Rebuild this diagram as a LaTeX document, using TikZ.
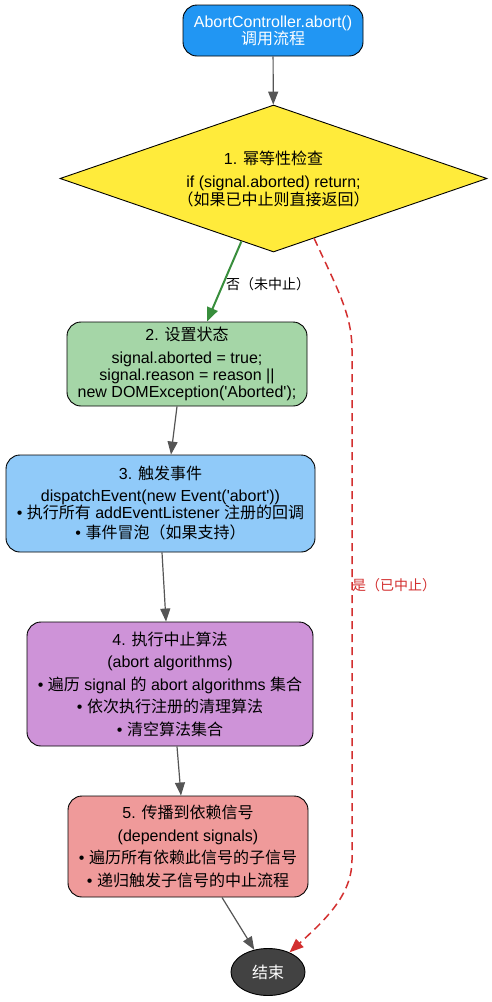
\documentclass[tikz,border=0pt]{standalone}
\usepackage{fontspec}
\setmainfont{Liberation Sans}
\newfontfamily\cjk{Noto Sans CJK SC}
\newcommand\zh[1]{{\cjk #1}}
\usetikzlibrary{shapes.geometric,arrows.meta,calc}
\definecolor{startblue}{HTML}{2196F3}
\definecolor{diayellow}{HTML}{FFEB3B}
\definecolor{setgreen}{HTML}{A5D6A7}
\definecolor{fireblue}{HTML}{90CAF9}
\definecolor{algopurple}{HTML}{CE93D8}
\definecolor{proppink}{HTML}{EF9A9A}
\definecolor{endgray}{HTML}{424242}
\definecolor{arrowgray}{HTML}{555555}
\definecolor{yesred}{HTML}{D32F2F}
\definecolor{nogreen}{HTML}{388E3C}
\begin{document}
\begin{tikzpicture}[x=1pt,y=-1pt,
  font=\fontsize{16}{17}\selectfont,
  box/.style={draw=black, line width=0.9pt, rounded corners=14pt, align=center, inner sep=0pt},
  conn/.style={draw=arrowgray, line width=1.2pt, -{Triangle[length=13pt,width=10pt]}},
  noconn/.style={draw=nogreen, line width=2pt, -{Triangle[length=14pt,width=11pt]}},
  yesconn/.style={draw=yesred, line width=1.5pt, dash pattern=on 8pt off 5pt, -{Triangle[length=14pt,width=11pt]}},
  lbl/.style={font=\fontsize{14}{16}\selectfont, inner sep=1pt}]
\useasboundingbox[fill=white] (0,0) rectangle (492,1002);

\node[box, fill=startblue, text=white, minimum width=180pt, minimum height=51pt] (start) at (273,30.5)
  {AbortController.abort()\\ \zh{调用流程}};

\node[diamond, shape aspect=2.9, draw=black, line width=0.9pt, fill=diayellow, minimum width=427pt, minimum height=147pt,
  inner sep=0pt, align=center] (check) at (273.5,178.5)
  {1. \zh{幂等性检查}\\[6pt] if (signal.aborted) return;\\ \zh{（如果已中止则直接返回）}};

\node[box, fill=setgreen, minimum width=240pt, minimum height=84pt] (set) at (187,364)
  {2. \zh{设置状态}\\[6pt] signal.aborted = true;\\ signal.reason = reason ||\\ new DOMException(\textquotesingle Aborted\textquotesingle);};

\node[box, fill=fireblue, minimum width=309pt, minimum height=97pt] (fire) at (160.5,503.5)
  {3. \zh{触发事件}\\[5pt] dispatchEvent(new Event(\textquotesingle abort\textquotesingle))\\ • \zh{执行所有} addEventListener \zh{注册的回调}\\[3pt] • \zh{事件冒泡（如果支持）}};

\node[box, fill=algopurple, minimum width=286pt, minimum height=124pt] (algo) at (170,684)
  {4. \zh{执行中止算法}\\[5.5pt] (abort algorithms)\\[5.5pt] • \zh{遍历} signal \zh{的} abort algorithms \zh{集合}\\[5.5pt] • \zh{依次执行注册的清理算法}\\[5.5pt] • \zh{清空算法集合}};

\node[box, fill=proppink, minimum width=240pt, minimum height=101pt] (prop) at (188,846.5)
  {5. \zh{传播到依赖信号}\\[5.5pt] (dependent signals)\\[5.5pt] • \zh{遍历所有依赖此信号的子信号}\\[5.5pt] • \zh{递归触发子信号的中止流程}};

\node[ellipse, draw=black, line width=0.9pt, fill=endgray, text=white, minimum width=74pt, minimum height=47pt, inner sep=0pt] (end) at (268,972) {\zh{结束}};

\draw[conn] (start) -- (check);
\draw[noconn] ($(check.south)!0.15!(check.west)$) -- ([xshift=20pt]set.north);
\node[lbl] (nolabel) at (268,284) {\zh{否（未中止）}};
\draw[conn] ([xshift=-10pt]set.south) -- ([xshift=10.5pt]fire.north);
\draw[conn] ([xshift=1.5pt]fire.south) -- ([xshift=-4pt]algo.north);
\draw[conn] ([xshift=7pt]algo.south) -- ([xshift=-7pt]prop.north);
\draw[conn] ([xshift=34pt]prop.south) -- (end);
\draw[yesconn] ($(check.south)!0.19!(check.east)$) .. controls (338,290) and (352,315) .. (352,350)
  -- (352,860) .. controls (352,895) and (325,920) .. (end);
\node[lbl, anchor=west, text=yesred] (yeslabel) at (351,585) {\zh{是（已中止）}};
\end{tikzpicture}
\end{document}
